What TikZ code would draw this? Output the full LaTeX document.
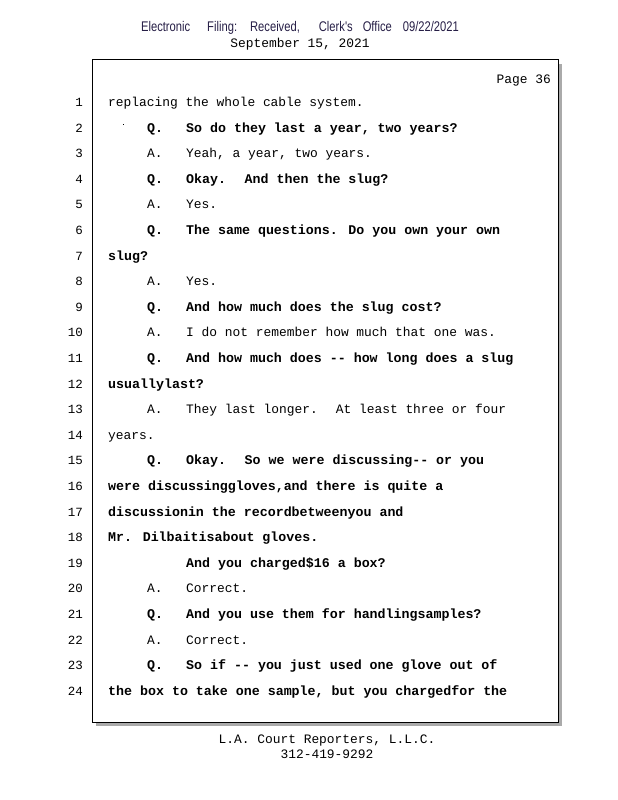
\documentclass[tikz,border=0pt]{standalone}
\usepackage{fontspec}
\usetikzlibrary{positioning}
\newfontfamily\courfont{Liberation Mono}
\newfontfamily\narrowfont{Liberation Sans}[FakeStretch=0.8]
\definecolor{hdrcol}{RGB}{38,30,70}
\definecolor{shadowgray}{RGB}{170,170,170}

\begin{document}
\begin{tikzpicture}[x=1pt,y=-1pt,
        lnum/.style={anchor=base east,inner sep=0pt,font=\courfont\fontsize{12.5}{14}\selectfont},
        plain/.style={anchor=base west,inner sep=0pt,font=\courfont\fontsize{12.9}{14}\selectfont},
        bold/.style={anchor=base west,inner sep=0pt,font=\courfont\bfseries\fontsize{13.3}{14}\selectfont}]
        \useasboundingbox (0,0) rectangle (618,800);

        % header
        \node[inner sep=0pt,text=hdrcol,font=\narrowfont\fontsize{14}{15}\selectfont] (filing) at (300,28)
            {Electronic\hspace{17pt}Filing:\hspace{13pt}Received,\hspace{19pt}Clerk's\hspace{10pt}Office\hspace{11pt}09/22/2021};
        \node[inner sep=0pt,font=\courfont\fontsize{12.9}{14}\selectfont,below=3.5pt of filing] (date) {September 15, 2021};

        % box with shadow
        \fill[shadowgray] (96,64) rectangle (562,726);
        \draw[fill=white,line width=1pt] (92,60) rectangle (558,722);
        \node[plain,anchor=base east] (page) at (551,83.5) {Page 36};

        % line numbers
        \foreach \n in {1,...,24}
            \node[lnum] (n\n) at (83,{106.5+(\n-1)*25.6}) {\n};

        % lines at the margin
        \node[plain] (t1) at (108,106.5) {replacing the whole cable system.};
        \node[bold] (t7) at (108,{106.5+6*25.6}) {slug?};
        \node[bold] (t12) at (108,{106.5+11*25.6}) {usuallylast?};
        \node[plain] (t14) at (108,{106.5+13*25.6}) {years.};
        \node[bold] (t16) at (108,{106.5+15*25.6}) {were discussinggloves,and there is quite a};
        \node[bold] (t17) at (108,{106.5+16*25.6}) {discussionin the recordbetweenyou and};
        \node[bold] (t18) at (108,{106.5+17*25.6}) {Mr. Dilbaitisabout gloves.};
        \node[bold] (t19) at (186,{106.5+18*25.6}) {And you charged\$16 a box?};
        \node[bold] (t24) at (108,{106.5+23*25.6}) {the box to take one sample, but you chargedfor the};

        % questions
        \foreach \n/\t in {2/{So do they last a year, two years?},
                4/{Okay.~ And then the slug?},
                6/{The same questions. Do you own your own},
                9/{And how much does the slug cost?},
                11/{And how much does -{}- how long does a slug},
                15/{Okay.~ So we were discussing-{}- or you},
                21/{And you use them for handlingsamples?},
                23/{So if -{}- you just used one glove out of}}{
            \node[bold] (q\n) at (147,{106.5+(\n-1)*25.6}) {Q.};
            \node[bold] (t\n) at (186,{106.5+(\n-1)*25.6}) {\t};
        }

        % answers
        \foreach \n/\t in {3/{Yeah, a year, two years.},
                5/{Yes.},
                8/{Yes.},
                10/{I do not remember how much that one was.},
                13/{They last longer.~ At least three or four},
                20/{Correct.},
                22/{Correct.}}{
            \node[plain] (a\n) at (147,{106.5+(\n-1)*25.6}) {A.};
            \node[plain] (t\n) at (186,{106.5+(\n-1)*25.6}) {\t};
        }

        % stray mark on line 2
        \fill (123,123.5) rectangle (124,124.5);

        % footer
        \node[inner sep=0pt,font=\courfont\fontsize{12.9}{14}\selectfont] (firm) at (327,741) {L.A. Court Reporters, L.L.C.};
        \node[inner sep=0pt,font=\courfont\fontsize{12.9}{14}\selectfont,below=3pt of firm] (phone) {312-419-9292};
\end{tikzpicture}
\end{document}
